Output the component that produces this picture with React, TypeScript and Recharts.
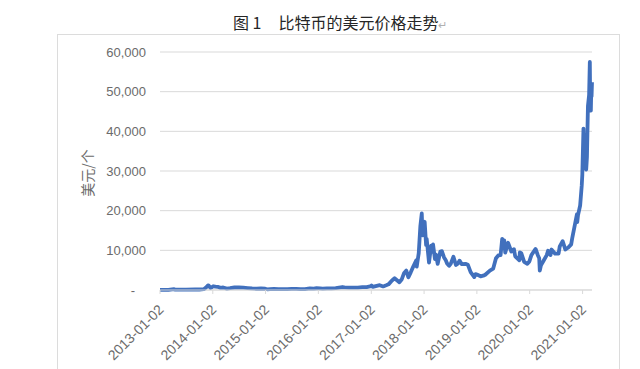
import { LineChart, Line, XAxis, YAxis, CartesianGrid } from "recharts";

// Bitcoin closing price in USD
const priceDates = [
  // 2013
  "2013-01-02", "2013-02-01", "2013-03-01", "2013-04-09", "2013-04-16", "2013-05-01", "2013-07-01", "2013-09-01",
  "2013-10-01", "2013-11-01", "2013-11-18", "2013-11-29", "2013-12-04", "2013-12-18", "2013-12-25",
  // 2014
  "2014-01-05", "2014-01-20", "2014-02-05", "2014-02-25", "2014-03-15", "2014-04-10", "2014-05-01", "2014-06-01",
  "2014-07-01", "2014-08-01", "2014-09-01", "2014-10-01", "2014-11-01", "2014-12-01", "2014-12-31",
  // 2015
  "2015-01-14", "2015-02-01", "2015-03-01", "2015-04-01", "2015-05-01", "2015-06-01", "2015-07-01", "2015-08-01",
  "2015-09-01", "2015-10-01", "2015-11-04", "2015-12-01", "2015-12-20",
  // 2016
  "2016-01-15", "2016-02-01", "2016-03-01", "2016-04-01", "2016-05-01", "2016-06-16", "2016-07-01", "2016-08-01",
  "2016-09-01", "2016-10-01", "2016-11-01", "2016-12-01", "2016-12-31",
  // 2017
  "2017-01-04", "2017-01-12", "2017-02-01", "2017-03-01", "2017-03-25", "2017-04-15", "2017-05-01", "2017-05-25",
  "2017-06-12", "2017-07-15", "2017-08-01", "2017-08-17", "2017-09-01", "2017-09-15", "2017-10-01", "2017-10-20",
  "2017-11-08", "2017-11-12", "2017-11-26", "2017-12-07", "2017-12-17", "2017-12-22", "2017-12-31",
  // 2018
  "2018-01-06", "2018-01-16", "2018-01-20", "2018-02-05", "2018-02-20", "2018-02-26", "2018-03-05", "2018-03-18",
  "2018-03-25", "2018-04-06", "2018-04-24", "2018-05-05", "2018-05-20", "2018-06-01", "2018-06-10", "2018-06-24",
  "2018-07-05", "2018-07-24", "2018-08-10", "2018-08-25", "2018-09-04", "2018-09-20", "2018-10-15", "2018-11-01",
  "2018-11-20", "2018-12-15", "2018-12-24",
  // 2019
  "2019-01-02", "2019-01-28", "2019-02-15", "2019-03-01", "2019-04-02", "2019-04-25", "2019-05-14", "2019-05-30",
  "2019-06-15", "2019-06-26", "2019-07-01", "2019-07-10", "2019-07-17", "2019-08-06", "2019-08-28", "2019-09-15",
  "2019-09-24", "2019-10-23", "2019-10-26", "2019-11-05", "2019-11-25", "2019-12-17", "2019-12-31",
  // 2020
  "2020-01-14", "2020-02-12", "2020-02-28", "2020-03-08", "2020-03-12", "2020-03-20", "2020-04-06", "2020-04-29",
  "2020-05-08", "2020-05-25", "2020-06-01", "2020-06-26", "2020-07-20", "2020-07-28", "2020-08-17", "2020-09-05",
  "2020-09-25", "2020-10-15", "2020-10-22", "2020-11-05", "2020-11-24", "2020-11-26", "2020-12-01", "2020-12-16",
  "2020-12-27", "2020-12-31",
  // 2021
  "2021-01-02", "2021-01-08", "2021-01-11", "2021-01-14", "2021-01-22", "2021-01-27", "2021-02-01", "2021-02-08",
  "2021-02-16", "2021-02-21", "2021-02-23", "2021-02-26", "2021-02-28", "2021-03-03", "2021-03-05", "2021-03-08",
];

const priceUsd = [
  // 2013
  13, 20, 34, 230, 70, 116, 90, 140,
  125, 205, 700, 1150, 1150, 520, 680,
  // 2014
  950, 830, 800, 530, 630, 360, 450, 630,
  640, 590, 480, 385, 320, 380, 320,
  // 2015
  180, 230, 260, 245, 235, 225, 260, 280,
  230, 240, 400, 360, 440,
  // 2016
  390, 370, 430, 415, 450, 750, 670, 620,
  575, 615, 730, 750, 960,
  // 2017
  1150, 780, 990, 1220, 900, 1180, 1420, 2400,
  2950, 1950, 2720, 4300, 4900, 3200, 4400, 6000,
  7450, 5900, 9300, 16000, 19300, 13800, 14000,
  // 2018
  17200, 11300, 12900, 6900, 11200, 9600, 11500, 7800,
  8900, 6600, 9700, 9800, 8200, 7500, 6700, 6100,
  6600, 8400, 6300, 6700, 7400, 6500, 6600, 6350,
  4500, 3250, 4000,
  // 2019
  3900, 3450, 3600, 3850, 4900, 5400, 8000, 8700,
  8800, 12900, 10600, 12500, 9400, 11900, 9700, 10300,
  8500, 7500, 9500, 9300, 7100, 6600, 7200,
  // 2020
  8800, 10350, 8700, 8000, 4900, 6200, 7300, 8800,
  9900, 8800, 10200, 9150, 9200, 11000, 12300, 10200,
  10700, 11500, 13000, 15600, 19100, 17100, 18800, 21300,
  26300, 29000,
  // 2021
  32000, 40700, 35500, 39200, 30800, 30400, 33500, 46400,
  49200, 57500, 48800, 46300, 45200, 50500, 48800, 52400,
];

const xTickDates = [
  "2013-01-02", "2014-01-02", "2015-01-02", "2016-01-02", "2017-01-02",
  "2018-01-02", "2019-01-02", "2020-01-02", "2021-01-02",
];
const yTicks = [0, 10000, 20000, 30000, 40000, 50000, 60000];

const data = priceDates.map((d, i) => ({ t: Date.parse(d), price: priceUsd[i] }));
const xTicks = xTickDates.map((d) => Date.parse(d));

const LINE_COLOR = "#4170bd";
const TEXT_GRAY = "#6b6b6b";
const GRID = "#d9d9d9";
const NUM_FONT = "'Liberation Sans', Arial, sans-serif";
const CJK_FONT = "'Noto Sans CJK SC', 'Noto Sans', sans-serif";

const renderYTick = (props: any) => {
  const { x, y, payload } = props;
  const v = payload.value as number;
  return (
    <text
      x={v === 0 ? x - 11 : x}
      y={y}
      dy="0.35em"
      textAnchor="end"
      fill={TEXT_GRAY}
      fontSize={13}
      fontFamily={NUM_FONT}
    >
      {v === 0 ? "-" : v.toLocaleString("en-US")}
    </text>
  );
};

const renderXTick = (props: any) => {
  const { x, y, payload } = props;
  const label = new Date(payload.value).toISOString().slice(0, 10);
  return (
    <g transform={`translate(${x + 1},${y + 11})`}>
      <text
        transform="rotate(-45)"
        textAnchor="end"
        dy="0.35em"
        fill={TEXT_GRAY}
        fontSize={14}
        fontFamily={NUM_FONT}
      >
        {label}
      </text>
    </g>
  );
};

export default function App() {
  return (
    <div
      style={{
        position: "absolute",
        left: 0,
        top: 0,
        width: 640,
        height: 369,
        background: "#fff",
        overflow: "hidden",
      }}
    >
      <div
        style={{
          position: "absolute",
          left: 233,
          top: 12,
          fontFamily: CJK_FONT,
          fontSize: 16,
          lineHeight: "20px",
          color: "#262626",
          whiteSpace: "pre",
        }}
      >
        图 1<span style={{ marginLeft: 17 }}>比特币的美元价格走势</span>
        <span style={{ color: "#b0b0b0", fontSize: 11 }}>↵</span>
      </div>
      <div
        style={{
          position: "absolute",
          left: 57,
          top: 34,
          width: 561,
          height: 360,
          border: "1px solid #dcdcdc",
        }}
      />
      <div
        style={{
          position: "absolute",
          left: 87,
          top: 173,
          transform: "translate(-50%, -50%) rotate(-90deg)",
          fontFamily: CJK_FONT,
          fontSize: 14,
          color: TEXT_GRAY,
          whiteSpace: "nowrap",
        }}
      >
        美元/个
      </div>
      <div style={{ position: "absolute", left: 0, top: 0 }}>
        <LineChart
          width={640}
          height={369}
          data={data}
          margin={{ top: 52, right: 48, bottom: 0, left: 0 }}
        >
          <CartesianGrid vertical={false} stroke={GRID} />
          <XAxis
            dataKey="t"
            type="number"
            domain={["dataMin", "dataMax"]}
            ticks={xTicks}
            interval={0}
            height={79}
            stroke={GRID}
            tickSize={4}
            tickMargin={2}
            tick={renderXTick}
          />
          <YAxis
            type="number"
            domain={[0, 60000]}
            ticks={yTicks}
            width={160}
            axisLine={false}
            tickLine={false}
            tickSize={0}
            tickMargin={14}
            tick={renderYTick}
          />
          <Line
            type="linear"
            dataKey="price"
            stroke={LINE_COLOR}
            strokeWidth={3.8}
            strokeLinejoin="round"
            dot={false}
            isAnimationActive={false}
          />
        </LineChart>
      </div>
    </div>
  );
}
